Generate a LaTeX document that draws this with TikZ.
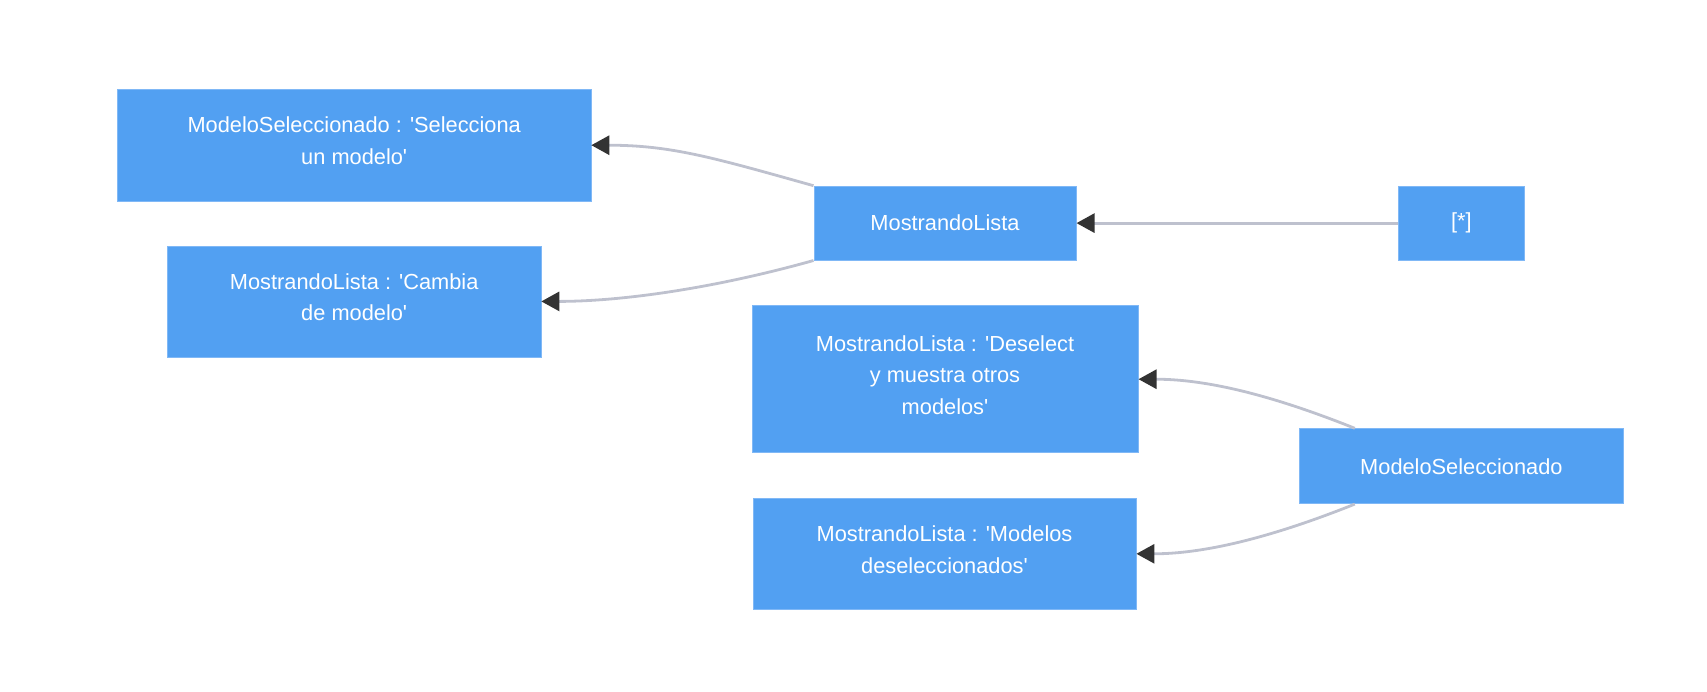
\documentclass[tikz,border=0pt]{standalone}
\usepackage{fontspec}
\setmainfont{Liberation Sans}
\usetikzlibrary{arrows.meta}
\definecolor{boxblue}{RGB}{82,160,242}
\definecolor{boxline}{RGB}{128,184,246}
\definecolor{edgegray}{RGB}{190,193,206}
\definecolor{tipdark}{RGB}{51,51,51}
\newcommand{\sq}{\textquotesingle}

\begin{document}
\begin{tikzpicture}[x=0.5pt,y=-0.5pt,
  state/.style={draw=boxline,fill=boxblue,text=white,align=center,inner sep=0pt,
    font=\fontsize{10.9}{15.8}\selectfont},
  multi/.style={text depth=4.4pt},
  trans/.style={draw=edgegray,line width=1.4pt,
    -{Triangle[length=9pt,width=9.5pt,color=tipdark]}}]
\useasboundingbox (0,0) rectangle (1707,691);

\node[state,multi,minimum width=236.7pt,minimum height=56pt] (selec) at (354.2,145.2)
  {ModeloSeleccionado : \sq Selecciona\\un modelo\sq};
\node[state,multi,minimum width=186.7pt,minimum height=55.5pt] (cambia) at (354.2,301.4)
  {MostrandoLista : \sq Cambia\\de modelo\sq};
\node[state,minimum width=131.1pt,minimum height=37pt] (lista) at (945,223.1) {MostrandoLista};
\node[state,minimum width=63.1pt,minimum height=37pt] (ini) at (1461.4,223.1) {[*]};
\node[state,multi,minimum width=193.1pt,minimum height=73.5pt] (desel) at (945,379.2)
  {MostrandoLista : \sq Deselect\\y muestra otros\\modelos\sq};
\node[state,minimum width=162.2pt,minimum height=37.5pt] (modsel) at (1461.4,466.2) {ModeloSeleccionado};
\node[state,multi,minimum width=191.5pt,minimum height=55.4pt] (modelos) at (944.5,553.8)
  {MostrandoLista : \sq Modelos\\deseleccionados\sq};

\draw[trans] (ini.west) -- (lista.east);
\draw[trans] (lista.north west) .. controls +(-100,-28) and +(80,0) .. (selec.east);
\draw[trans] (lista.south west) .. controls +(-100,28) and +(80,0) .. (cambia.east);
\draw[trans] ([xshift=28pt]modsel.north west) .. controls +(-80,-32) and +(70,0) .. (desel.east);
\draw[trans] ([xshift=28pt]modsel.south west) .. controls +(-80,32) and +(70,0) .. (modelos.east);
\end{tikzpicture}
\end{document}
